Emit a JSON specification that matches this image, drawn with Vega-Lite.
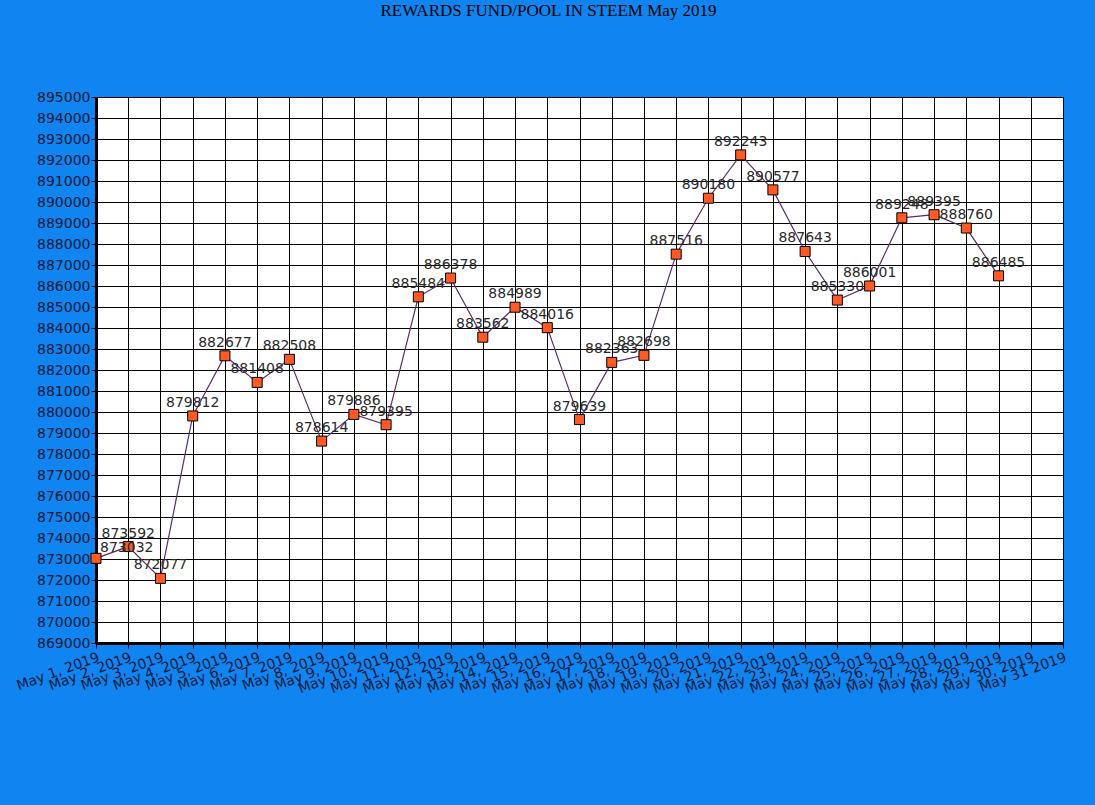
{
  "$schema": "https://vega.github.io/schema/vega-lite/v6.json",
  "width": 967,
  "height": 546,
  "autosize": "none",
  "padding": {"left": 96, "top": 97, "right": 32, "bottom": 162},
  "background": "#1084F0",
  "title": {
    "text": "REWARDS FUND/POOL IN STEEM May 2019",
    "font": "Liberation Serif",
    "fontSize": 17,
    "fontWeight": "normal",
    "color": "#000000",
    "anchor": "middle",
    "dx": -31,
    "offset": 70
  },
  "data": {
    "values": [
      {"date": "May 1, 2019", "steem": 873032},
      {"date": "May 2, 2019", "steem": 873592},
      {"date": "May 3, 2019", "steem": 872077},
      {"date": "May 4, 2019", "steem": 879812},
      {"date": "May 5, 2019", "steem": 882677},
      {"date": "May 6, 2019", "steem": 881408},
      {"date": "May 7, 2019", "steem": 882508},
      {"date": "May 8, 2019", "steem": 878614},
      {"date": "May 9, 2019", "steem": 879886},
      {"date": "May 10, 2019", "steem": 879395},
      {"date": "May 11, 2019", "steem": 885484},
      {"date": "May 12, 2019", "steem": 886378},
      {"date": "May 13, 2019", "steem": 883562},
      {"date": "May 14, 2019", "steem": 884989},
      {"date": "May 15, 2019", "steem": 884016},
      {"date": "May 16, 2019", "steem": 879639},
      {"date": "May 17, 2019", "steem": 882363},
      {"date": "May 18, 2019", "steem": 882698},
      {"date": "May 19, 2019", "steem": 887516},
      {"date": "May 20, 2019", "steem": 890180},
      {"date": "May 21, 2019", "steem": 892243},
      {"date": "May 22, 2019", "steem": 890577},
      {"date": "May 23, 2019", "steem": 887643},
      {"date": "May 24, 2019", "steem": 885330},
      {"date": "May 25, 2019", "steem": 886001},
      {"date": "May 26, 2019", "steem": 889248},
      {"date": "May 27, 2019", "steem": 889395},
      {"date": "May 28, 2019", "steem": 888760},
      {"date": "May 29, 2019", "steem": 886485}
    ]
  },
  "encoding": {
    "x": {
      "field": "date",
      "type": "ordinal",
      "sort": null,
      "title": null,
      "scale": {
        "type": "point",
        "padding": 0,
        "domain": ["May 1, 2019", "May 2, 2019", "May 3, 2019", "May 4, 2019", "May 5, 2019", "May 6, 2019", "May 7, 2019", "May 8, 2019", "May 9, 2019", "May 10, 2019", "May 11, 2019", "May 12, 2019", "May 13, 2019", "May 14, 2019", "May 15, 2019", "May 16, 2019", "May 17, 2019", "May 18, 2019", "May 19, 2019", "May 20, 2019", "May 21, 2019", "May 22, 2019", "May 23, 2019", "May 24, 2019", "May 25, 2019", "May 26, 2019", "May 27, 2019", "May 28, 2019", "May 29, 2019", "May 30, 2019", "May 31 2019"]
      },
      "axis": {
        "labelAngle": -20,
        "labelAlign": "right",
        "labelBaseline": "top",
        "labelFont": "DejaVu Sans",
        "labelFontSize": 14,
        "labelColor": "#0a1a3a",
        "labelPadding": 2,
        "labelOverlap": false,
        "labelBound": false,
        "domainColor": "#000000",
        "domainWidth": 3,
        "tickColor": "#000000",
        "tickSize": 5,
        "tickWidth": 1,
        "grid": true,
        "gridColor": "#000000",
        "gridWidth": 1,
        "gridOpacity": 1
      }
    },
    "y": {
      "field": "steem",
      "type": "quantitative",
      "title": null,
      "scale": {"domain": [869000, 895000], "zero": false, "nice": false},
      "axis": {
        "values": [869000, 870000, 871000, 872000, 873000, 874000, 875000, 876000, 877000, 878000, 879000, 880000, 881000, 882000, 883000, 884000, 885000, 886000, 887000, 888000, 889000, 890000, 891000, 892000, 893000, 894000, 895000],
        "format": "d",
        "labelFont": "DejaVu Sans",
        "labelFontSize": 14,
        "labelColor": "#0a1a3a",
        "labelPadding": 1,
        "labelOverlap": false,
        "domainColor": "#000000",
        "domainWidth": 3,
        "tickColor": "#000000",
        "tickSize": 5,
        "tickWidth": 1,
        "grid": true,
        "gridColor": "#000000",
        "gridWidth": 1,
        "gridOpacity": 1
      }
    }
  },
  "layer": [
    {"mark": {"type": "line", "color": "#5E2A6E", "strokeWidth": 1.2}},
    {"mark": {"type": "point", "shape": "square", "size": 100, "filled": true, "fill": "#FF5A26", "stroke": "#000000", "strokeWidth": 1, "opacity": 1}},
    {
      "transform": [{"filter": "datum.date != 'May 1, 2019'"}],
      "mark": {"type": "text", "font": "DejaVu Sans", "fontSize": 14, "color": "#2a2a2a", "baseline": "bottom", "align": "center", "dy": -6},
      "encoding": {"text": {"field": "steem", "type": "quantitative", "format": "d"}}
    },
    {
      "transform": [{"filter": "datum.date == 'May 1, 2019'"}],
      "mark": {"type": "text", "font": "DejaVu Sans", "fontSize": 14, "color": "#2a2a2a", "baseline": "bottom", "align": "left", "dx": 4, "dy": -3},
      "encoding": {"text": {"field": "steem", "type": "quantitative", "format": "d"}}
    }
  ],
  "config": {
    "view": {"fill": "#FFFFFF", "stroke": null}
  }
}
